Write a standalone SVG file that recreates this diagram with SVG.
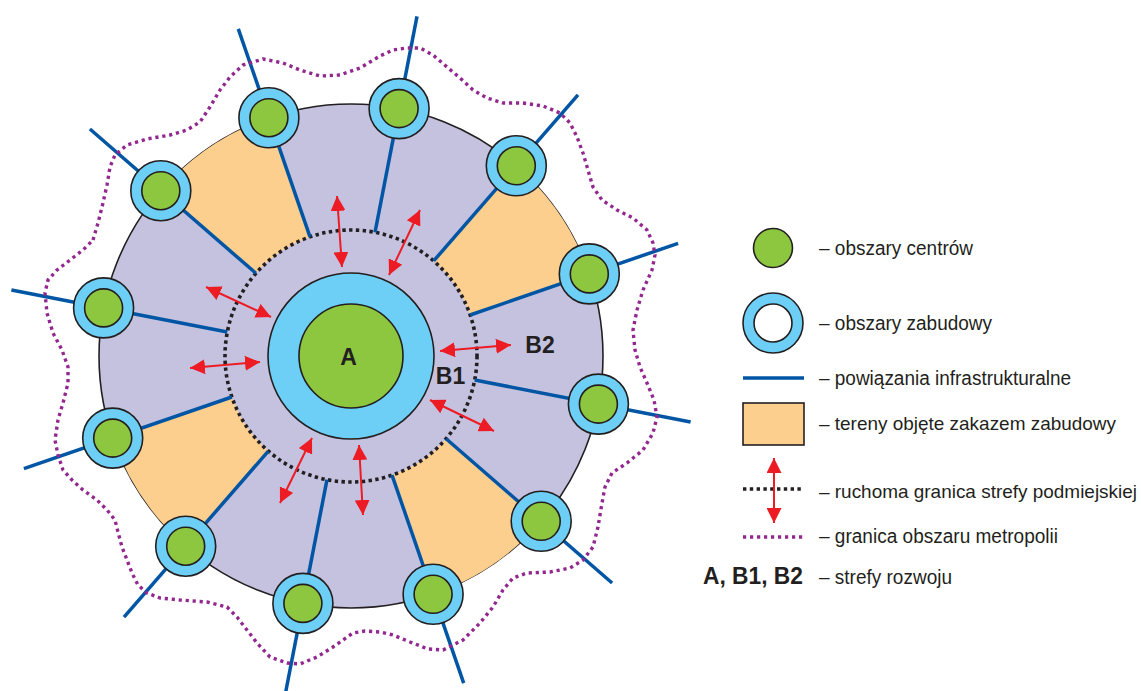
<svg xmlns="http://www.w3.org/2000/svg" width="1141" height="691" viewBox="0 0 1141 691">
<style>
.ring{fill:#6dcff6;stroke:#231f20;stroke-width:1.6}
.core{fill:#8dc63f;stroke:#231f20;stroke-width:1.6}
.infra{stroke:#0056a4;stroke-width:3.5;fill:none}
.arr{stroke:#ed1c24;stroke-width:2;fill:none;marker-start:url(#ah);marker-end:url(#ah)}
.ban{fill:#fdcf8f;stroke:none}
.dotk{fill:none;stroke:#231f20;stroke-width:3.6;stroke-dasharray:3.4 3.4}
.dotp{fill:none;stroke:#92278f;stroke-width:3.4;stroke-dasharray:3.2 3.8;stroke-linejoin:round}
.t{font-family:"Liberation Sans",Arial,Helvetica,sans-serif;font-size:19.5px;fill:#231f20}
.b{font-family:"Liberation Sans",Arial,Helvetica,sans-serif;font-size:23px;font-weight:bold;fill:#231f20}
</style>
<defs>
<marker id="ah" viewBox="0 0 15 15" markerWidth="15" markerHeight="15" refX="15" refY="7.5" orient="auto-start-reverse" markerUnits="userSpaceOnUse">
<path d="M0,0 L15,7.5 L0,15 Z" fill="#ed1c24"/>
</marker>
</defs>
<rect width="1141" height="691" fill="#ffffff"/>

<g id="zone-b2">
<circle cx="351" cy="356" r="252" fill="#c5c2e0" stroke="#231f20" stroke-width="1.6"/>
</g>
<g id="ban-zones">
<path class="ban" d="M160.8,190.7 A252,252 0 0 1 268.9,117.7 L310,236.9 A126,126 0 0 0 255.9,273.3 Z"/>
<path class="ban" d="M516.3,165.8 A252,252 0 0 1 589.3,273.9 L470.1,315 A126,126 0 0 0 433.7,260.9 Z"/>
<path class="ban" d="M541.2,521.3 A252,252 0 0 1 433.1,594.3 L392,475.1 A126,126 0 0 0 446.1,438.7 Z"/>
<path class="ban" d="M185.7,546.2 A252,252 0 0 1 112.7,438.1 L231.9,397 A126,126 0 0 0 268.3,451.1 Z"/>
</g>
<g id="zone-b1-boundary">
<circle class="dotk" cx="351" cy="356" r="126"/>
</g>
<g id="zone-a">
<circle class="ring" cx="351" cy="356" r="83"/>
<circle class="core" cx="351" cy="356" r="52"/>
</g>

<g id="connectors">
<line class="infra" x1="474.7" y1="380" x2="690.6" y2="422"/>
<line class="infra" x1="446.1" y1="438.7" x2="612.1" y2="583"/>
<line class="infra" x1="392" y1="475.1" x2="463.7" y2="683.1"/>
<line class="infra" x1="327" y1="479.7" x2="285" y2="695.6"/>
<line class="infra" x1="268.3" y1="451.1" x2="124" y2="617.1"/>
<line class="infra" x1="231.9" y1="397" x2="23.9" y2="468.7"/>
<line class="infra" x1="227.3" y1="332" x2="11.4" y2="290"/>
<line class="infra" x1="255.9" y1="273.3" x2="89.9" y2="129"/>
<line class="infra" x1="310" y1="236.9" x2="238.3" y2="28.9"/>
<line class="infra" x1="375" y1="232.3" x2="417" y2="16.4"/>
<line class="infra" x1="433.7" y1="260.9" x2="578" y2="94.9"/>
<line class="infra" x1="470.1" y1="315" x2="678.1" y2="243.3"/>
<line class="arr" x1="337" y1="196" x2="342" y2="267"/>
<line class="arr" x1="420" y1="210" x2="389" y2="275"/>
<line class="arr" x1="206" y1="287" x2="271" y2="317"/>
<line class="arr" x1="190" y1="368" x2="260" y2="362"/>
<line class="arr" x1="440" y1="351" x2="511" y2="345"/>
<line class="arr" x1="430" y1="400" x2="494" y2="431"/>
<line class="arr" x1="312" y1="438" x2="280" y2="503"/>
<line class="arr" x1="359" y1="445" x2="363" y2="515"/>
</g>

<g id="sat-1"><circle class="ring" cx="598.4" cy="404.1" r="30"/><circle class="core" cx="598.4" cy="404.1" r="19"/></g>
<g id="sat-2"><circle class="ring" cx="541.2" cy="521.3" r="30"/><circle class="core" cx="541.2" cy="521.3" r="19"/></g>
<g id="sat-3"><circle class="ring" cx="433.1" cy="594.3" r="30"/><circle class="core" cx="433.1" cy="594.3" r="19"/></g>
<g id="sat-4"><circle class="ring" cx="302.9" cy="603.4" r="30"/><circle class="core" cx="302.9" cy="603.4" r="19"/></g>
<g id="sat-5"><circle class="ring" cx="185.7" cy="546.2" r="30"/><circle class="core" cx="185.7" cy="546.2" r="19"/></g>
<g id="sat-6"><circle class="ring" cx="112.7" cy="438.1" r="30"/><circle class="core" cx="112.7" cy="438.1" r="19"/></g>
<g id="sat-7"><circle class="ring" cx="103.6" cy="307.9" r="30"/><circle class="core" cx="103.6" cy="307.9" r="19"/></g>
<g id="sat-8"><circle class="ring" cx="160.8" cy="190.7" r="30"/><circle class="core" cx="160.8" cy="190.7" r="19"/></g>
<g id="sat-9"><circle class="ring" cx="268.9" cy="117.7" r="30"/><circle class="core" cx="268.9" cy="117.7" r="19"/></g>
<g id="sat-10"><circle class="ring" cx="399.1" cy="108.6" r="30"/><circle class="core" cx="399.1" cy="108.6" r="19"/></g>
<g id="sat-11"><circle class="ring" cx="516.3" cy="165.8" r="30"/><circle class="core" cx="516.3" cy="165.8" r="19"/></g>
<g id="sat-12"><circle class="ring" cx="589.3" cy="273.9" r="30"/><circle class="core" cx="589.3" cy="273.9" r="19"/></g>

<g id="metropolis-boundary">
<path class="dotp" d="M93,240 L98,223 L103,203 L107,185 L110,167 L115,155 L127,145 L147,139 L170,135 L187,130 L200,122 L210,107 L220,90 L230,77 L243,65 L263,59 L283,63 L300,70 L320,76 L340,75 L360,68 L380,56 L393,50 L407,48 L420,48 L433,55 L447,67 L460,78 L473,90 L487,98 L503,103 L523,103 L543,106 L560,113 L570,123 L577,137 L583,153 L588,170 L593,187 L602,200 L617,210 L633,218 L647,230 L653,243 L655,255 L652,270 L643,290 L637,310 L633,330 L635,350 L640,367 L647,383 L654,400 L657,417 L653,433 L643,450 L627,463 L612,473 L605,487 L602,503 L598,527 L593,547 L583,560 L570,568 L550,572 L527,573 L513,578 L503,590 L493,607 L480,623 L463,640 L443,650 L428,649 L410,642 L393,635 L380,632 L365,631 L353,633 L333,647 L317,657 L300,664 L287,663 L270,657 L257,643 L247,630 L237,617 L227,607 L207,602 L180,600 L160,598 L147,593 L138,585 L132,573 L127,560 L122,547 L118,532 L115,520 L107,510 L97,500 L83,490 L72,480 L63,470 L58,455 L55,440 L58,420 L63,403 L68,383 L68,367 L62,350 L53,333 L47,313 L45,293 L48,280 L57,270 L70,260 L83,250 Z"/>
</g>

<g id="zone-labels">
<text class="b" x="348.5" y="365" text-anchor="middle">A</text>
<text class="b" x="450.5" y="384" text-anchor="middle">B1</text>
<text class="b" x="540" y="353" text-anchor="middle">B2</text>
</g>

<g id="legend">
<g id="legend-centers">
<circle class="core" cx="773" cy="248" r="19.5"/>
<text class="t" x="819" y="255" textLength="154" lengthAdjust="spacingAndGlyphs">– obszary centrów</text>
</g>
<g id="legend-built">
<circle class="ring" cx="773" cy="323" r="30"/>
<circle cx="773" cy="323" r="19" fill="#ffffff" stroke="#231f20" stroke-width="1.6"/>
<text class="t" x="819" y="330" textLength="173" lengthAdjust="spacingAndGlyphs">– obszary zabudowy</text>
</g>
<g id="legend-infra">
<line class="infra" x1="743" y1="378" x2="804" y2="378"/>
<text class="t" x="819" y="385" textLength="252" lengthAdjust="spacingAndGlyphs">– powiązania infrastrukturalne</text>
</g>
<g id="legend-ban">
<rect x="743" y="403" width="61" height="42" fill="#fdcf8f" stroke="#231f20" stroke-width="1.6"/>
<text class="t" x="819" y="430" style="font-size:19px" textLength="297" lengthAdjust="spacingAndGlyphs">– tereny objęte zakazem zabudowy</text>
</g>
<g id="legend-suburb">
<line class="dotk" x1="743" y1="489" x2="804" y2="489"/>
<line class="arr" x1="774" y1="458" x2="774" y2="523"/>
<text class="t" x="819" y="498" style="font-size:19px" textLength="318" lengthAdjust="spacingAndGlyphs">– ruchoma granica strefy podmiejskiej</text>
</g>
<g id="legend-metro">
<line class="dotp" x1="743" y1="537" x2="804" y2="537"/>
<text class="t" x="819" y="543" textLength="239" lengthAdjust="spacingAndGlyphs">– granica obszaru metropolii</text>
</g>
<g id="legend-zones">
<text class="b" x="703" y="584" textLength="100" lengthAdjust="spacingAndGlyphs">A, B1, B2</text>
<text class="t" x="819" y="584" textLength="133" lengthAdjust="spacingAndGlyphs">– strefy rozwoju</text>
</g>
</g>
</svg>
